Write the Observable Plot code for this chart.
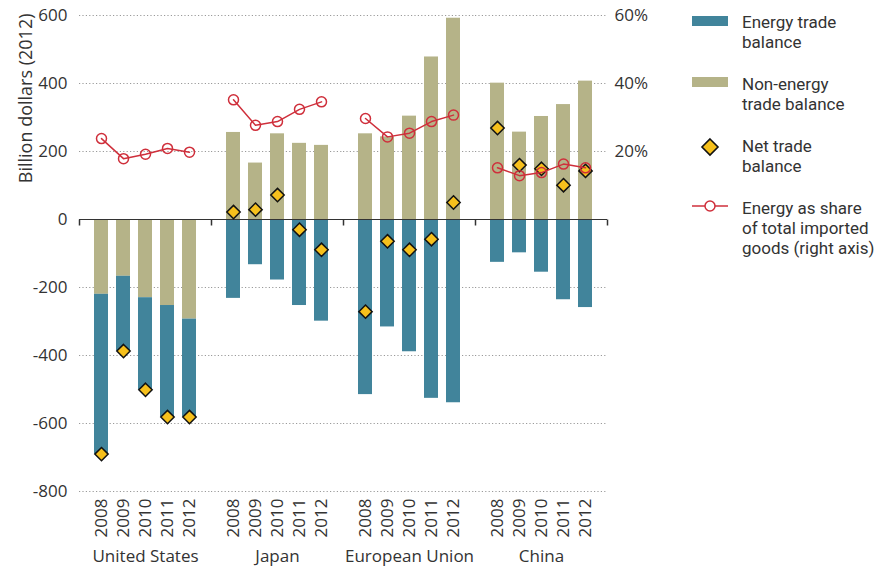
<!DOCTYPE html>
<html><head><meta charset="utf-8">
<script src="https://cdn.jsdelivr.net/npm/d3@7"></script>
<script src="https://cdn.jsdelivr.net/npm/@observablehq/plot@0.6"></script>
<style>
body{margin:0;background:#fff;}
#wrap{position:relative;width:887px;height:568px;font-family:"Open Sans",sans-serif;color:#333;}
.leg{position:absolute;left:742px;font-family:Roboto,sans-serif;font-size:17px;line-height:20px;height:20px;white-space:nowrap;color:#333;}
.sw{position:absolute;}
</style></head><body><div id="wrap"></div>
<script>
const regions = ["United States", "Japan", "European Union", "China"];
const years = ["2008", "2009", "2010", "2011", "2012"];
// billion dollars (2012), one row per region, one value per year
const nonEnergyBalance = [
  [-220, -167, -230, -253, -293],
  [256, 166, 252, 224, 218],
  [252, 243, 304, 478, 592],
  [401, 257, 303, 338, 407]
];
const energyBalance = [
  [-470, -220, -271, -328, -288],
  [-232, -133, -178, -253, -299],
  [-515, -316, -389, -526, -539],
  [-126, -98, -155, -236, -259]
];
const netBalance = [
  [-690, -387, -501, -581, -581],
  [22, 29, 72, -30, -89],
  [-271, -64, -89, -58, 50],
  [269, 160, 149, 101, 143]
];
// energy as share of total imported goods, percent
const energyShare = [
  [23.8, 17.9, 19.2, 20.9, 19.8],
  [35.2, 27.7, 28.8, 32.4, 34.6],
  [29.7, 24.3, 25.4, 28.8, 30.7],
  [15.2, 12.9, 13.8, 16.3, 15.2]
];
const yTicks = [-800, -600, -400, -200, 0, 200, 400, 600];
const shareTicks = [20, 40, 60];

const BLUE = "#41849b", OLIVE = "#b5b388", GOLD = "#f6c01c", RED = "#cf2f3b";

const rows = [];
regions.forEach((r, i) => years.forEach((y, j) => rows.push({region: r, year: y, series: "Non-energy", value: nonEnergyBalance[i][j]})));
regions.forEach((r, i) => years.forEach((y, j) => rows.push({region: r, year: y, series: "Energy", value: energyBalance[i][j]})));
const points = [];
regions.forEach((r, i) => years.forEach((y, j) => points.push({region: r, year: y, net: netBalance[i][j], share: energyShare[i][j]})));

const tickSymbol = {draw(ctx) { ctx.moveTo(0, 0); ctx.lineTo(0, 6); }};

const chart = Plot.plot({
  width: 887, height: 568,
  marginLeft: 78, marginRight: 280, marginTop: 15, marginBottom: 77,
  style: {fontFamily: '"Open Sans", sans-serif', fontSize: "17px", color: "#333", background: "white"},
  fx: {domain: regions, padding: 0, label: null},
  x: {domain: years, paddingInner: 0.37, paddingOuter: 0.56, label: null},
  y: {domain: [-800, 600], label: null},
  color: {domain: ["Non-energy", "Energy"], range: [OLIVE, BLUE]},
  marks: [
    Plot.gridY({ticks: yTicks.filter(d => d !== 0), stroke: "#9a9a9a", strokeOpacity: 1, strokeDasharray: "1.2,2.2"}),
    Plot.barY(rows, Plot.stackY({fx: "region", x: "year", y: "value", fill: "series"})),
    Plot.ruleY([0], {stroke: "#333"}),
    Plot.dot([0], {y: d => d, frameAnchor: "left", symbol: tickSymbol, stroke: "#333"}),
    Plot.dot([{region: "China"}], {fx: "region", y: () => 0, frameAnchor: "right", symbol: tickSymbol, stroke: "#333"}),
    Plot.dot(points, {fx: "region", x: "year", y: "net", symbol: "diamond2", r: 6, fill: GOLD, stroke: "#111", strokeWidth: 1.5}),
    Plot.line(points, {fx: "region", x: "year", y: d => d.share * 10, stroke: RED, strokeWidth: 1.5}),
    Plot.dot(points, {fx: "region", x: "year", y: d => d.share * 10, r: 5, stroke: RED, strokeWidth: 1.5, fill: "none"}),
    Plot.axisY({anchor: "left", ticks: yTicks, tickSize: 0, tickPadding: 12, tickFormat: d => String(d), label: null}),
    Plot.axisY({anchor: "right", ticks: shareTicks.map(d => d * 10), tickSize: 0, tickPadding: 7, tickFormat: d => d / 10 + "%", label: null}),
    Plot.axisX({anchor: "bottom", tickRotate: -90, tickSize: 0, tickPadding: 7, label: null}),
    Plot.axisFx({anchor: "bottom", tickSize: 0, tickPadding: 58, label: null}),
    Plot.text([{region: "United States", t: "Billion dollars (2012)"}], {fx: "region", text: "t", frameAnchor: "top-left", rotate: -90, textAnchor: "end", dx: -60, dy: -2, fontSize: 18})
  ]
});
const wrap = document.getElementById("wrap");
wrap.appendChild(chart);

const legend = [
  {top: 11.5, lines: ["Energy trade", "balance"], sw: `<div class="sw" style="left:692px;top:16px;width:36px;height:10px;background:${BLUE}"></div>`},
  {top: 73.8, lines: ["Non-energy", "trade balance"], sw: `<div class="sw" style="left:692px;top:77px;width:36px;height:10px;background:${OLIVE}"></div>`},
  {top: 135.8, lines: ["Net trade", "balance"], sw: `<svg class="sw" style="left:700px;top:137px" width="20" height="20"><polygon points="10,2 18,10 10,18 2,10" fill="${GOLD}" stroke="#111" stroke-width="1.6"/></svg>`},
  {top: 197.5, lines: ["Energy as share", "of total imported", "goods (right axis)"], sw: `<svg class="sw" style="left:692px;top:198px" width="36" height="16"><line x1="0" y1="8" x2="36" y2="8" stroke="${RED}" stroke-width="1.5"/><circle cx="18" cy="8" r="5" fill="white" stroke="${RED}" stroke-width="1.5"/></svg>`}
];
for (const item of legend) {
  wrap.insertAdjacentHTML("beforeend", item.sw);
  item.lines.forEach((line, k) => {
    const d = document.createElement("div");
    d.className = "leg";
    d.style.top = (item.top + k * 20) + "px";
    d.textContent = line;
    wrap.appendChild(d);
  });
}
</script></body></html>
